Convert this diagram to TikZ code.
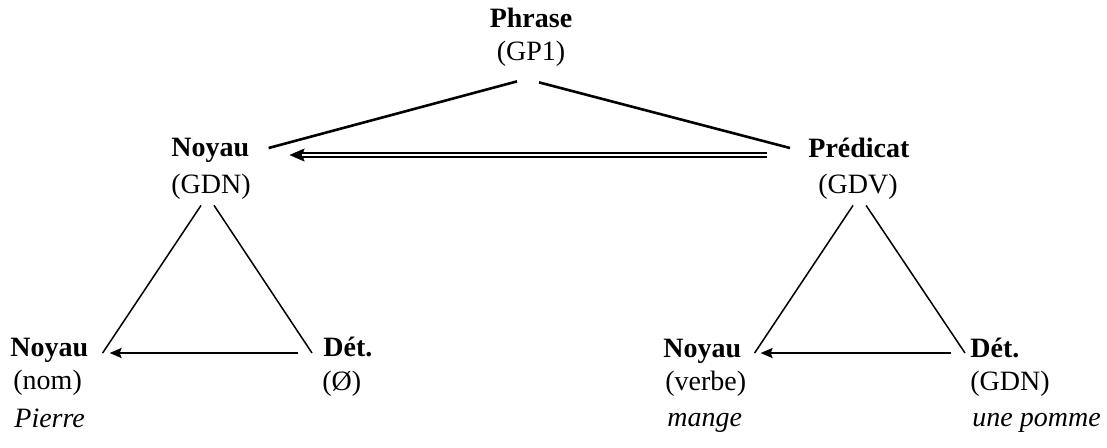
\documentclass[tikz,border=0pt]{standalone}
\usepackage{fontspec}
\setmainfont{Liberation Serif}
\usetikzlibrary{arrows.meta}
\begin{document}
\begin{tikzpicture}[x=0.5pt, y=-0.5pt, >=Stealth,
        every node/.style={inner sep=0pt, font=\fontsize{14}{17}\selectfont},
        titre/.style={font=\fontsize{14}{17}\selectfont\bfseries},
        exemple/.style={font=\fontsize{14}{17}\selectfont\itshape},
        trait/.style={line width=1.3pt},
        branche/.style={line width=0.75pt},
        fleche/.style={-{Stealth[length=6pt, width=5pt, inset=1pt]}, line width=1pt},
        pointe/.style={-{Stealth[length=7.5pt, width=6.5pt, inset=1.2pt]}, line width=0.2pt},
        dtrait/.style={double, double distance=0.8pt, line width=1pt, shorten >=6pt}]
        \useasboundingbox (0,0) rectangle (1107,447);

        % groupe phrase
        \node[titre, anchor=base] (phrase) at (531,27) {Phrase};
        \node[anchor=base] (gp) at (531,60) {(GP1)};

        % noyau et predicat
        \node[titre, anchor=base west] (noyau) at (171,156) {Noyau};
        \node[anchor=base west] (gdn) at (171,193) {(GDN)};
        \node[titre, anchor=base west] (predicat) at (808,157) {Prédicat};
        \node[anchor=base west] (gdv) at (818,193) {(GDV)};

        % sous-arbre du noyau
        \node[titre, anchor=base west] (nom) at (10,356) {Noyau};
        \node[anchor=base west] (nomcat) at (13,389) {(nom)};
        \node[exemple, anchor=base west] (pierre) at (14,427) {Pierre};
        \node[titre, anchor=base west] (det) at (323,356) {Dét.};
        \node[anchor=base west] (detcat) at (322,390) {(Ø)};

        % sous-arbre du predicat
        \node[titre, anchor=base west] (verbe) at (663,357) {Noyau};
        \node[anchor=base west] (verbecat) at (665,390) {(verbe)};
        \node[exemple, anchor=base west] (mange) at (667,426) {mange};
        \node[titre, anchor=base west] (cod) at (970,357) {Dét.};
        \node[anchor=base west] (codcat) at (970,390) {(GDN)};
        \node[exemple, anchor=base west] (pomme) at (972,426) {une pomme};

        \draw[trait] ([shift={(-14,15)}]gp.south) -- ([shift={(19,-8)}]noyau.base east);
        \draw[trait] ([shift={(8,16)}]gp.south) -- ([shift={(-18,-9)}]predicat.base west);
        \draw[pointe] ([shift={(-41,-2)}]predicat.base west) -- ([shift={(40,-1)}]noyau.base east);
        \draw[dtrait] ([shift={(-41,-2)}]predicat.base west) -- ([shift={(40,-1)}]noyau.base east);

        \draw[branche] ([shift={(-10,6)}]gdn.south) -- ([shift={(14,-3)}]nom.base east);
        \draw[branche] ([shift={(3,6)}]gdn.south) -- ([shift={(-11,-3)}]det.base west);
        \draw[fleche] ([shift={(-25,-3)}]det.base west) -- ([shift={(21,-3)}]nom.base east);

        \draw[branche] ([shift={(-5,6)}]gdv.south) -- ([shift={(13,-4)}]verbe.base east);
        \draw[branche] ([shift={(8,6)}]gdv.south) -- ([shift={(-5,-4)}]cod.base west);
        \draw[fleche] ([shift={(-19,-4)}]cod.base west) -- ([shift={(19,-4)}]verbe.base east);
    \end{tikzpicture}
\end{document}
